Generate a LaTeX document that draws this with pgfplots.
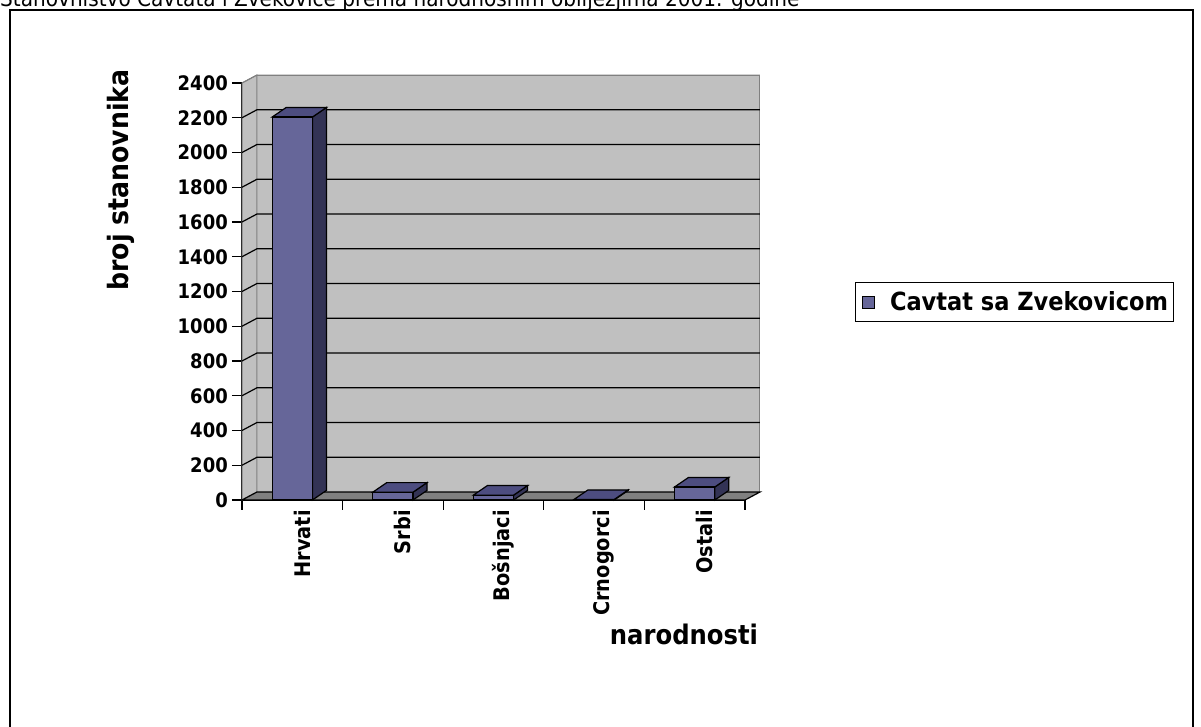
\documentclass[border=0pt]{standalone}
\usepackage{pgfplots}
\pgfplotsset{compat=1.18}
\usepackage{fontspec}
\setmainfont{DejaVu Sans}[FakeStretch=0.9]
\definecolor{barfront}{HTML}{666699}
\definecolor{bartop}{HTML}{4D4D80}
\definecolor{barside}{HTML}{333355}
\definecolor{wall}{HTML}{C0C0C0}
\definecolor{floorc}{HTML}{808080}
\begin{document}
\begin{tikzpicture}[x=1pt,y=1pt]
\useasboundingbox (0,0) rectangle (1201,727);
\clip (0,0) rectangle (1201,727);
\fill[white] (0,0) rectangle (1201,727);
\draw[line width=1.5pt] (10,-10) rectangle (1193,717);
\node[anchor=base west, inner sep=0pt, font=\fontsize{22.3}{26}\selectfont] at (0,720) {Stanovništvo Cavtata i Zvekovice prema narodnosnim obilježjima 2001. godine};
\begin{axis}[
  at={(242pt,227pt)}, anchor=south west,
  scale only axis, width=503pt, height=417pt,
  xmin=-0.5, xmax=4.5, ymin=0, ymax=2400,
  clip=false,
  axis x line*=bottom, axis y line*=left,
  axis line style={-, line width=1.2pt, black},
  xtick={0,1,2,3,4},
  xticklabels={Hrvati,Srbi,Bošnjaci,Crnogorci,Ostali},
  minor xtick={-0.5,0.5,1.5,2.5,3.5,4.5},
  major x tick style={draw=none},
  minor x tick style={line width=1.2pt, black},
  minor tick length=10pt,
  ytick={0,200,...,2400},
  major tick length=10pt,
  tick align=outside,
  ytick style={line width=1.2pt, black},
  /pgf/number format/assume math mode=true,
  /pgf/number format/1000 sep={},
  yticklabel style={font=\fontsize{20}{24}\selectfont\bfseries, anchor=east, inner sep=0pt, xshift=-4pt},
  xticklabel style={font=\fontsize{21.5}{25}\selectfont\bfseries, rotate=90, anchor=east, inner sep=0pt, yshift=-10pt},
  xlabel={narodnosti},
  ylabel={broj stanovnika},
  xlabel style={at={(axis description cs:0.8787,-0.322)}, anchor=center, font=\fontsize{27}{32}\selectfont\bfseries},
  ylabel style={at={(axis description cs:-0.2406,0.7674)}, anchor=center, font=\fontsize{28}{33}\selectfont\bfseries},
  legend style={at={(axis description cs:1.5348,0.4748)}, anchor=center, draw=black, line width=1pt,
    font=\fontsize{25}{30}\selectfont\bfseries, inner xsep=3pt, inner ysep=7pt},
]
% back wall
\addplot[fill=wall, draw=floorc, line width=1pt, forget plot] coordinates {(-0.351,46) (4.649,46) (4.649,2446) (-0.351,2446)} -- cycle;
% left wall
\addplot[fill=wall, draw=floorc, line width=1pt, forget plot] coordinates {(-0.5,0) (-0.351,46) (-0.351,2446) (-0.5,2400)} -- cycle;
% floor
\addplot[fill=floorc, draw=black, line width=1.2pt, forget plot] coordinates {(-0.5,0) (4.5,0) (4.649,46) (-0.351,46)} -- cycle;
% grid lines
\addplot[black, line width=1.2pt, forget plot] coordinates {(-0.5,200) (-0.351,246) (4.649,246)};
\addplot[black, line width=1.2pt, forget plot] coordinates {(-0.5,400) (-0.351,446) (4.649,446)};
\addplot[black, line width=1.2pt, forget plot] coordinates {(-0.5,600) (-0.351,646) (4.649,646)};
\addplot[black, line width=1.2pt, forget plot] coordinates {(-0.5,800) (-0.351,846) (4.649,846)};
\addplot[black, line width=1.2pt, forget plot] coordinates {(-0.5,1000) (-0.351,1046) (4.649,1046)};
\addplot[black, line width=1.2pt, forget plot] coordinates {(-0.5,1200) (-0.351,1246) (4.649,1246)};
\addplot[black, line width=1.2pt, forget plot] coordinates {(-0.5,1400) (-0.351,1446) (4.649,1446)};
\addplot[black, line width=1.2pt, forget plot] coordinates {(-0.5,1600) (-0.351,1646) (4.649,1646)};
\addplot[black, line width=1.2pt, forget plot] coordinates {(-0.5,1800) (-0.351,1846) (4.649,1846)};
\addplot[black, line width=1.2pt, forget plot] coordinates {(-0.5,2000) (-0.351,2046) (4.649,2046)};
\addplot[black, line width=1.2pt, forget plot] coordinates {(-0.5,2200) (-0.351,2246) (4.649,2246)};
\addplot[floorc, line width=1pt, forget plot] coordinates {(-0.5,2400) (-0.351,2446) (4.649,2446)};
% bar side faces
\addplot[fill=barside, draw=black, line width=1.2pt, forget plot] coordinates {(0.2,0) (0.339,55) (0.339,2259) (0.2,2204)} -- cycle;
\addplot[fill=barside, draw=black, line width=1.2pt, forget plot] coordinates {(1.2,0) (1.339,55) (1.339,100) (1.2,45)} -- cycle;
\addplot[fill=barside, draw=black, line width=1.2pt, forget plot] coordinates {(2.2,0) (2.339,55) (2.339,83) (2.2,28)} -- cycle;
\addplot[fill=barside, draw=black, line width=1.2pt, forget plot] coordinates {(3.2,0) (3.339,55) (3.339,58) (3.2,3)} -- cycle;
\addplot[fill=barside, draw=black, line width=1.2pt, forget plot] coordinates {(4.2,0) (4.339,55) (4.339,130) (4.2,75)} -- cycle;
% bar top faces
\addplot[fill=bartop, draw=black, line width=1.2pt, forget plot] coordinates {(-0.2,2204) (0.2,2204) (0.339,2259) (-0.061,2259)} -- cycle;
\addplot[fill=bartop, draw=black, line width=1.2pt, forget plot] coordinates {(0.8,45) (1.2,45) (1.339,100) (0.939,100)} -- cycle;
\addplot[fill=bartop, draw=black, line width=1.2pt, forget plot] coordinates {(1.8,28) (2.2,28) (2.339,83) (1.939,83)} -- cycle;
\addplot[fill=bartop, draw=black, line width=1.2pt, forget plot] coordinates {(2.8,3) (3.2,3) (3.339,58) (2.939,58)} -- cycle;
\addplot[fill=bartop, draw=black, line width=1.2pt, forget plot] coordinates {(3.8,75) (4.2,75) (4.339,130) (3.939,130)} -- cycle;
% bar fronts
\addplot[ybar, bar width=0.4, bar shift=0pt, fill=barfront, draw=black, line width=1.2pt,
  legend image code/.code={\path[draw=none, fill=none] (0pt,0pt) -- (30pt,0pt); \draw[fill=barfront, draw=black, line width=0.8pt] (4pt,-6pt) rectangle (16pt,6pt);}]
  coordinates {(0,2204) (1,45) (2,28) (3,3) (4,75)};
\addlegendentry{Cavtat sa Zvekovicom}
\end{axis}
\end{tikzpicture}
\end{document}
